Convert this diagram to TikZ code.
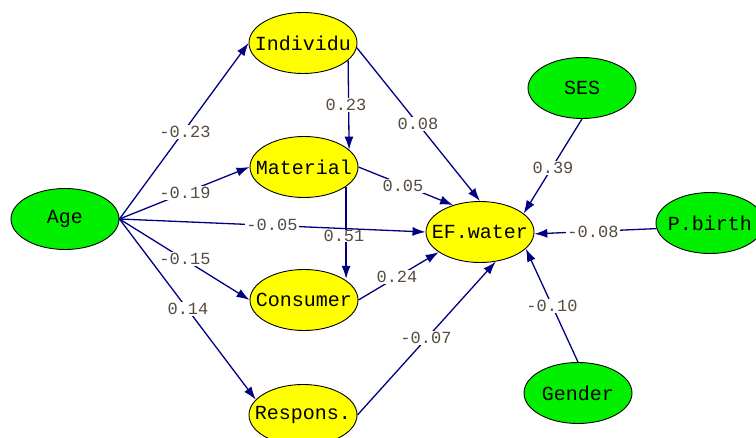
\documentclass[tikz,border=0pt]{standalone}
\usepackage{fontspec}
\newfontfamily\cour{Liberation Mono}
\usetikzlibrary{arrows.meta,shapes.geometric}
\definecolor{edgeblue}{RGB}{0,0,128}
\definecolor{labgray}{RGB}{85,75,65}
\definecolor{yel}{RGB}{255,255,0}
\definecolor{grn}{RGB}{0,240,0}
\tikzset{
  var/.style={ellipse,draw=black,line width=0.9pt,minimum width=108pt,minimum height=61pt,inner xsep=-12pt,inner ysep=0pt,font=\cour\fontsize{20}{20}\selectfont},
  endo/.style={var,fill=yel},
  exo/.style={var,fill=grn},
  path/.style={draw=edgeblue,line width=1.3pt,-{Latex[length=13pt,width=9pt]}},
  coef/.style={fill=white,inner sep=1pt,text=labgray,font=\cour\fontsize{17}{17}\selectfont}
}
\begin{document}
\begin{tikzpicture}[x=1pt,y=-1pt]
\useasboundingbox (0,0) rectangle (756,438);
\begin{scope}
\clip (0,0) rectangle (756,438);
\node[exo]  (Age)      at (65,219)  {Age};
\node[endo] (Individu) at (303,43)  {Individu};
\node[endo] (Material) at (304,167) {Material};
\node[endo] (Consumer) at (304,300) {Consumer};
\node[endo] (Respons)  at (303,415) {Respons.};
\node[endo] (EF)       at (480,232) {EF.water};
\node[exo]  (SES)      at (582,88)  {SES};
\node[exo]  (Pbirth)   at (710,223) {P.birth};
\node[exo]  (Gender)   at (578,393) {Gender};

\draw[path] (Age.east) -- (Individu.west);
\draw[path] (Age.east) -- (Material.west);
\draw[path] (Age.east) -- (EF.west);
\draw[path] (Age.east) -- (Consumer.west);
\draw[path] (Age.east) -- (Respons.162);
\draw[path] (Individu.-21) -- (Material.21);
\draw[path] (Material.-25) -- (Material.-25 |- Consumer.28);
\draw[path] (Individu.-5) -- (EF.north);
\draw[path] (Material.east) -- (EF.135);
\draw[path] (Consumer.east) -- (EF.206);
\draw[path] (Respons.east) -- (EF.-62);
\draw[path] (SES.south) -- (EF.23);
\draw[path] (Pbirth.186) -- (EF.-2);
\draw[path] (Gender.north) -- (EF.-20);

\node[coef] (l1)  at (185,132) {-0.23};
\node[coef] (l2)  at (185,193) {-0.19};
\node[coef] (l3)  at (272,225) {-0.05};
\node[coef] (l4)  at (185,259) {-0.15};
\node[coef] (l5)  at (188,309) {0.14};
\node[coef] (l6)  at (346,105) {0.23};
\node[coef,inner sep=0pt] (l7)  at (344,236) {0.51};
\node[coef] (l8)  at (418,124) {0.08};
\node[coef] (l9)  at (403,186) {0.05};
\node[coef] (l10) at (397,277) {0.24};
\node[coef] (l11) at (426,338) {-0.07};
\node[coef] (l12) at (553,168) {0.39};
\node[coef] (l13) at (593,232) {-0.08};
\node[coef] (l14) at (552,306) {-0.10};
\end{scope}
\end{tikzpicture}
\end{document}
